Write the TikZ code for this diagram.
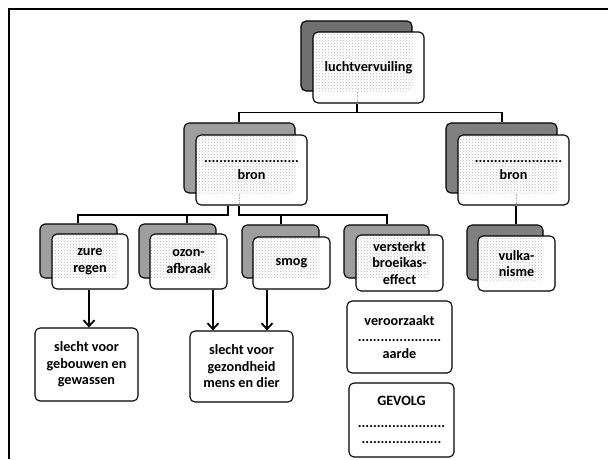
\documentclass[tikz,border=0pt]{standalone}
\usepackage{fontspec}
\setmainfont{Carlito}
\usetikzlibrary{patterns,arrows.meta}
\newcommand\lbox[9]{%
  \node[shadowbox=#2, minimum width=#4, minimum height=#5] (#1s) at (#3) {};
  \node[frontbox, minimum width=#7, minimum height=#8,
    path picture={\fill[pattern=crosshatch dots, pattern color=gray!55, rounded corners=5pt] (#1s.south west) rectangle (#1s.north east);}]
    (#1) at (#6) {#9};
}
\begin{document}
\begin{tikzpicture}[x=1pt,y=-1pt,
  boxfont/.style={font=\bfseries\fontsize{14.2}{16.5}\selectfont},
  shadowbox/.style={draw, line width=1.1pt, rounded corners=5pt, fill=#1, inner sep=0pt},
  frontbox/.style={draw, line width=1.1pt, rounded corners=5pt, fill=white, align=center, inner sep=0pt, boxfont},
  link/.style={line width=1.1pt},
  arr/.style={line width=1.8pt, -{Straight Barb[length=6pt,width=11pt,line width=1.8pt]}},
  ghost/.style={gray!60, densely dotted, line width=0.6pt},
]
\useasboundingbox (0,0) rectangle (608,459);
\draw[line width=1.6pt] (9,459) -- (9,9) -- (608,9);

\lbox{lucht}{black!56}{356.5,56}{111pt}{70pt}{368.5,67.5}{111pt}{71pt}{luchtvervuiling}
\lbox{bronL}{black!38}{239.5,158}{111pt}{70pt}{251.5,170}{111pt}{70pt}{.........................\\bron}
\lbox{bronR}{black!50}{501.5,158}{111pt}{70pt}{513.5,170}{111pt}{70pt}{\hspace*{10pt}.......................\\bron}
\lbox{zure}{black!38}{78.5,251}{77pt}{54pt}{90,261.5}{76pt}{55pt}{zure\\regen}
\lbox{ozon}{black!38}{177.5,251}{77pt}{54pt}{188.5,261.5}{77pt}{55pt}{ozon-\\afbraak}
\lbox{smog}{black!38}{280.5,251.5}{77pt}{53pt}{291.5,263}{77pt}{52pt}{smog}
\lbox{vers}{black!38}{386.5,251.5}{85pt}{53pt}{399.5,263}{87pt}{56pt}{versterkt\\broeikas-\\effect}
\lbox{vulk}{black!50}{505,252.5}{76pt}{55pt}{516.5,263.5}{77pt}{55pt}{vulka-\\nisme}

\node[frontbox, minimum width=103pt, minimum height=73pt] (geb) at (86.5,364.5) {slecht voor\\gebouwen en\\gewassen};
\node[frontbox, minimum width=103pt, minimum height=71pt] (gez) at (241.5,366.5) {slecht voor\\gezondheid\\mens en dier};
\node[frontbox, minimum width=105pt, minimum height=72pt] (ver) at (399.5,337) {veroorzaakt\\......................\\aarde};
\node[frontbox, minimum width=105pt, minimum height=74pt] (gev) at (401.5,420) {GEVOLG\\[5pt].......................\\.....................};

% ghost lines seen through the boxes
\draw[ghost] (luchts.south -| 357,0) -- (lucht.south -| 357,0);
\draw[ghost] (bronLs.south -| 239,0) -- (bronL.south -| 239,0);
\draw[ghost] (bronRs.south -| 516,0) -- (bronR.south -| 516,0);

% level 1
\coordinate (j1) at (357,113);
\draw[link] (lucht.south -| j1) -- (j1);
\draw[link] (bronLs.north -| 239,0) -- ++(0,-10) -| (bronRs.north -| 502,0);
% left tree from bron
\coordinate (j2) at (228,215);
\draw[link] (bronL.south -| j2) -- (j2) -| (zures.north -| 78,0);
\draw[link] (ozons.north -| 187,0) -- (187,215);
% right tree from bron
\coordinate (j3) at (239,215);
\draw[link] (bronL.south -| j3) -- (j3) -| (verss.north -| 387,0);
\draw[link] (smogs.north -| 281,0) -- (281,215);
% vulkanisme
\draw[link] (bronR.south -| 516,0) -- (vulks.north -| 516,0);

% arrows
\draw[arr] (zure.south -| 89,0) -- (geb.north -| 89,0);
\draw[arr] (ozon.south -| 213,0) -- (gez.north -| 213,0);
\draw[arr] (smog.south -| 267,0) -- (gez.north -| 267,0);
\end{tikzpicture}
\end{document}
